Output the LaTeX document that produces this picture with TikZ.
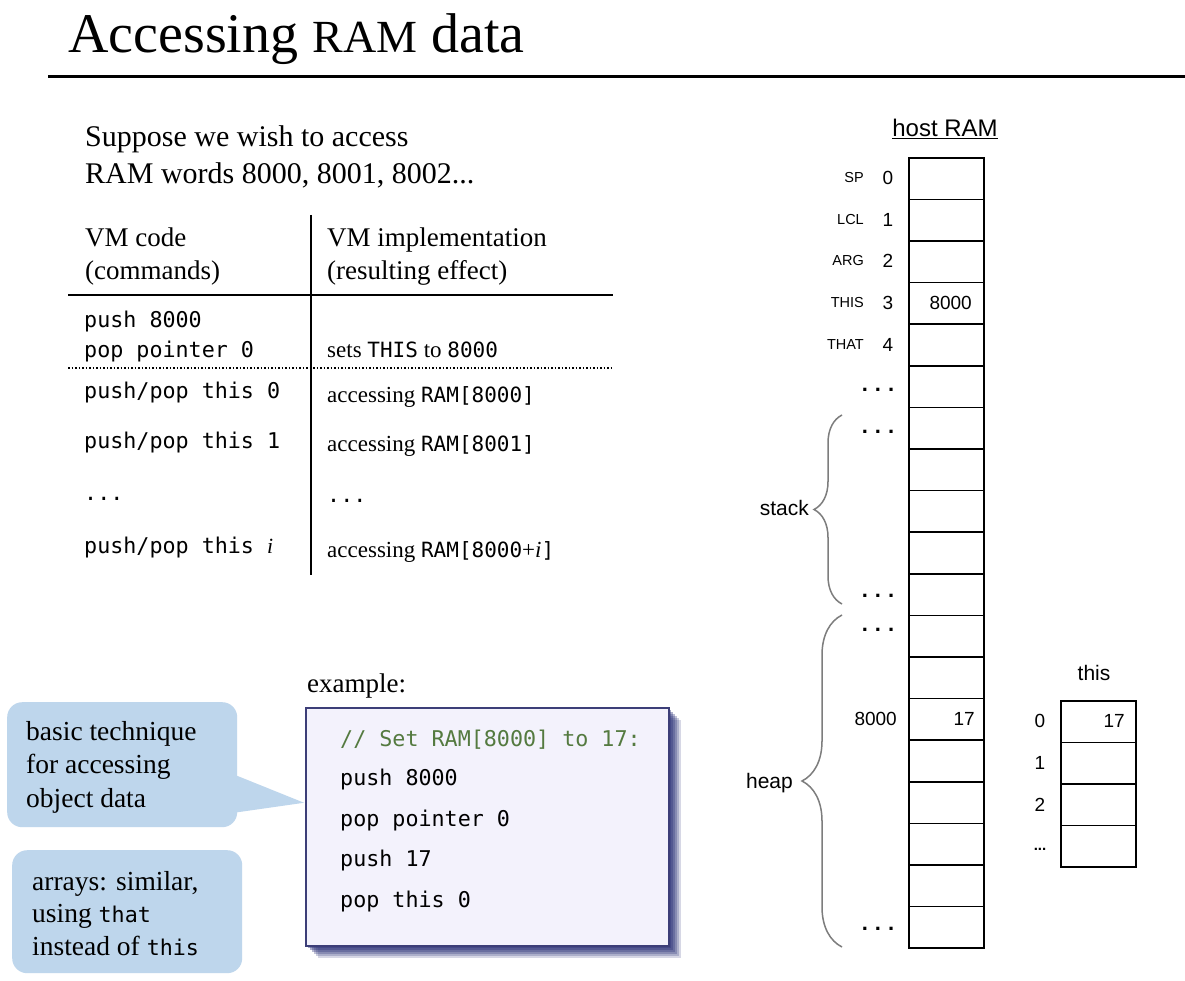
\documentclass[tikz,border=0pt]{standalone}
\usepackage{fontspec}
\setmainfont{Liberation Serif}
\setsansfont{Liberation Sans}
\setmonofont{DejaVu Sans Mono}
\usetikzlibrary{calc,decorations.pathreplacing}

\definecolor{calloutblue}{RGB}{190,214,236}
\definecolor{codebg}{RGB}{243,242,252}
\definecolor{codeborder}{RGB}{60,62,120}
\definecolor{shadowblue}{RGB}{50,56,125}
\definecolor{commentgreen}{RGB}{84,122,64}
\definecolor{bracegray}{RGB}{125,125,125}

\newcommand\ramdotrow{\textbf{.}\hspace{7pt}\textbf{.}\hspace{7pt}\textbf{.}}

\tikzset{
  txt/.style={inner sep=0pt, anchor=base west},
  titlefont/.style={font=\fontsize{56}{60}\selectfont},
  bodyfont/.style={font=\fontsize{30}{36}\selectfont},
  headfont/.style={font=\fontsize{27}{32}\selectfont},
  smallserif/.style={font=\fontsize{23}{28}\selectfont},
  codefont/.style={font=\fontsize{21.7}{26}\selectfont\ttfamily},
  notefont/.style={font=\fontsize{27.5}{32}\selectfont},
  ramname/.style={inner sep=0pt, anchor=base east, font=\fontsize{14.5}{16}\selectfont\sffamily},
  ramidx/.style={inner sep=0pt, anchor=base, font=\fontsize{19}{22}\selectfont\sffamily},
  ramval/.style={inner sep=0pt, anchor=base east, font=\fontsize{19}{22}\selectfont\sffamily},
  ramdots/.style={inner sep=0pt, anchor=base, font=\fontsize{22}{24}\selectfont\sffamily},
  seglabel/.style={inner sep=0pt, anchor=base east, font=\fontsize{21}{24}\selectfont\sffamily},
  cell/.style={draw, line width=1.6pt, minimum width=75pt, minimum height=41.6pt,
               inner sep=0pt, anchor=north west},
  tableline/.style={line width=1.8pt},
  bracepath/.style={draw=bracegray, line width=1.5pt, decorate},
  callout/.style={fill=calloutblue, rounded corners=15pt, anchor=north west, inner sep=0pt},
}

\begin{document}
\begin{tikzpicture}[x=1pt,y=-1pt]
\useasboundingbox (0,0) rectangle (1185,981);
\fill[white] (0,0) rectangle (1185,981);

% ---------- title ----------
\node[txt, titlefont] (title) at (68,53)
  {Accessing {\fontsize{46}{50}\selectfont RAM} data};
\draw[line width=3pt] (48,77) -- (1185,77);

% ---------- introduction ----------
\node[txt, bodyfont] (intro1) at (85,147) {Suppose we wish to access};
\node[txt, bodyfont] (intro2) at (85,184) {RAM words 8000, 8001, 8002...};

% ---------- table ----------
\draw[tableline] (311,215) -- (311,575);
\draw[tableline] (68,295) -- (613,295);
\draw[dotted, line width=1.5pt] (68,368) -- (613,368);

\node[txt, headfont] (hcode1) at (85,247) {VM code};
\node[txt, headfont] (hcode2) at (85,280) {(commands)};
\node[txt, headfont] (himpl1) at (327,247) {VM implementation};
\node[txt, headfont] (himpl2) at (327,280) {(resulting effect)};

\node[txt, codefont] (code1) at (84,327) {push 8000};
\node[txt, codefont] (code2) at (84,357) {pop pointer 0};
\node[txt, smallserif] (impl2) at (327,357)
  {sets {\ttfamily\fontsize{21}{24}\selectfont THIS} to {\ttfamily\fontsize{21}{24}\selectfont 8000}};

\node[txt, codefont] (code3) at (84,398) {push/pop this 0};
\node[txt, smallserif] (impl3) at (327,402)
  {accessing {\ttfamily\fontsize{21}{24}\selectfont RAM[8000]}};
\node[txt, codefont] (code4) at (84,448) {push/pop this 1};
\node[txt, smallserif] (impl4) at (327,451)
  {accessing {\ttfamily\fontsize{21}{24}\selectfont RAM[8001]}};
\node[txt, codefont] (code5) at (84,500) {...};
\node[txt, codefont] (impl5) at (327,502) {...};
\node[txt, codefont] (code6) at (84,553) {push/pop this {\rmfamily\itshape i}};
\node[txt, smallserif] (impl6) at (327,557)
  {accessing {\ttfamily\fontsize{21}{24}\selectfont RAM[8000}+\textit{i}{\ttfamily\fontsize{21}{24}\selectfont ]}};

% ---------- host RAM column ----------
\node[inner sep=0pt, anchor=base, font=\fontsize{24}{28}\selectfont\sffamily] (hostram)
  at (945,137) {\underline{host RAM}};
\foreach \k in {0,...,18}
  \node[cell] (r\k) at (908,{157+41.6*\k}) {};

\foreach \k/\nm in {0/SP,1/LCL,2/ARG,3/THIS,4/THAT} {
  \node[ramname] (nm\k) at (864,{157+41.6*\k+20.8+5}) {\nm};
  \node[ramidx]  (ix\k) at (888,{157+41.6*\k+20.8+7}) {\k};
}
\node[ramval] (val3) at (972,{157+41.6*3+20.8+7}) {8000};

\node[ramdots] (dots5)  at (878,391) {\ramdotrow};
\node[ramdots] (dots6)  at (878,433) {\ramdotrow};
\node[ramdots] (dots10) at (878,597) {\ramdotrow};
\node[ramdots] (dots11) at (878,631) {\ramdotrow};
\node[ramdots] (dots18) at (878,930) {\ramdotrow};

\node[ramval] (addr8000) at (897,{157+41.6*13+20.8+7}) {8000};
\node[ramval] (val13) at (975,{157+41.6*13+20.8+7}) {17};

% segment braces
\draw[bracepath, decoration={brace, amplitude=28pt, aspect=0.5}]
  (842,604) -- (842,415);
\node[seglabel] (stack) at (809,515) {stack};
\draw[bracepath, decoration={brace, amplitude=40pt, aspect=0.5}]
  (842,947) -- (842,615);
\node[seglabel] (heap) at (793,788) {heap};

% ---------- the "this" segment ----------
\node[inner sep=0pt, anchor=base, font=\fontsize{21}{24}\selectfont\sffamily] (thislab)
  at (1094,680) {this};
\foreach \k in {0,...,3}
  \node[cell] (t\k) at (1060,{700+41.6*\k}) {};
\foreach \k in {0,1,2}
  \node[ramidx] (ti\k) at (1040,{700+41.6*\k+20.8+7}) {\k};
\node[inner sep=0pt, anchor=base, font=\fontsize{15}{16}\selectfont\sffamily\bfseries] (tidots)
  at (1040,850) {...};
\node[ramval] (tval0) at (1125,{700+20.8+7}) {17};

% ---------- example ----------
\node[txt, headfont] (exlabel) at (307,692) {example:};
% soft drop shadow, built from stacked translucent layers
\foreach \s/\o in {13/0.2,11/0.25,9/0.3,7/0.35,5/0.4,3/0.45}
  \fill[shadowblue, opacity=\o] (305+\s,707+\s) rectangle (668+\s,945+\s);
\node[draw=codeborder, fill=codebg, line width=1.5pt, minimum width=363pt,
      minimum height=238pt, inner sep=0pt, anchor=north west] (ex) at (305,707) {};
\node[txt, codefont, text=commentgreen] (ex1) at (340,746) {// Set RAM[8000] to 17:};
\node[txt, codefont] (ex2) at (340,785) {push 8000};
\node[txt, codefont] (ex3) at (340,826) {pop pointer 0};
\node[txt, codefont] (ex4) at (340,866) {push 17};
\node[txt, codefont] (ex5) at (340,907) {pop this 0};

% ---------- notes ----------
\node[callout, minimum width=230pt, minimum height=125pt] (note1) at (7,702) {};
\coordinate (notetip) at ($(ex.west)+(-1,-24)$);
\fill[calloutblue] ($(note1.east)+(-3,10)$) -- (notetip) -- ($(note1.east)+(-3,48)$) -- cycle;
\node[txt, notefont] (n1a) at (26,740) {basic technique};
\node[txt, notefont] (n1b) at (26,773) {for accessing};
\node[txt, notefont] (n1c) at (26,807) {object data};

\node[callout, minimum width=230pt, minimum height=123pt] (note2) at (12,850) {};
\node[txt, notefont] (n2a) at (32,890) {arrays: similar,};
\node[txt, notefont] (n2b) at (32,922) {using {\ttfamily\fontsize{21.7}{26}\selectfont that}};
\node[txt, notefont] (n2c) at (32,955) {instead of {\ttfamily\fontsize{21.7}{26}\selectfont this}};
\end{tikzpicture}
\end{document}
